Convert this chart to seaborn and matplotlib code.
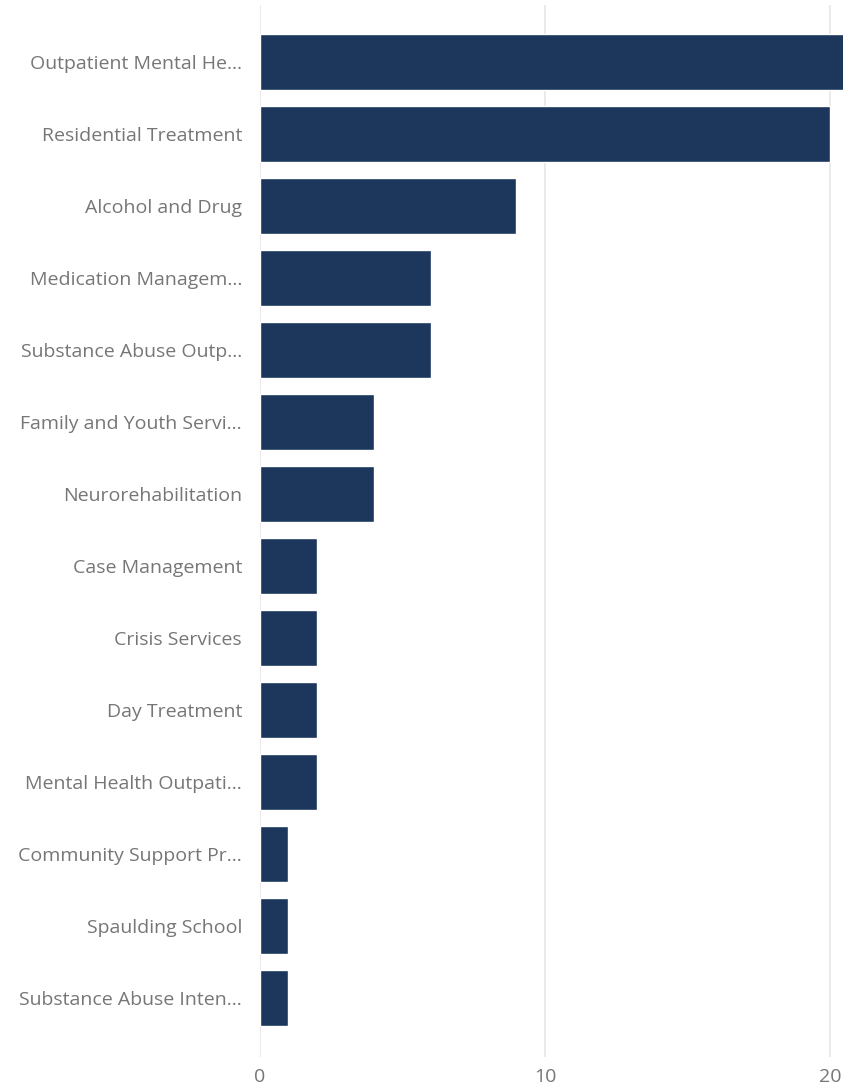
import pandas as pd
import numpy as np
import matplotlib.pyplot as plt
import seaborn as sns

programs = ['Outpatient Mental He...', 'Residential Treatment', 'Alcohol and Drug',
            'Medication Managem...', 'Substance Abuse Outp...', 'Family and Youth Servi...',
            'Neurorehabilitation', 'Case Management', 'Crisis Services', 'Day Treatment',
            'Mental Health Outpati...', 'Community Support Pr...', 'Spaulding School',
            'Substance Abuse Inten...']
counts = [21, 20, 9, 6, 6, 4, 4, 2, 2, 2, 2, 1, 1, 1]

df = pd.DataFrame({'program': programs, 'count': counts})

sns.set_style('white')
plt.rcParams['font.family'] = ['Open Sans', 'DejaVu Sans']

fig = plt.figure(figsize=(8.43, 10.87), dpi=100)
ax = fig.add_axes([0.3084, 0.0276, 0.6916, 0.9678])

sns.barplot(data=df, x='count', y='program', color='#1c365c', width=0.78,
            saturation=1, ax=ax, zorder=3)

ax.set_xlim(0, 20.46)
ax.set_ylim(13.82, -0.79)
ax.set_xticks([0, 10, 20])
ax.xaxis.grid(True, color='#e6e6e6', linewidth=1.2, zorder=0)
ax.set_axisbelow(True)
for s in ax.spines.values():
    s.set_visible(False)
ax.set_xlabel('')
ax.set_ylabel('')
ax.tick_params(axis='y', length=0, pad=13, labelsize=14, labelcolor='#767676')
ax.tick_params(axis='x', length=0, pad=8, labelsize=14, labelcolor='#767676')

fig.savefig('out.png', dpi=100)
